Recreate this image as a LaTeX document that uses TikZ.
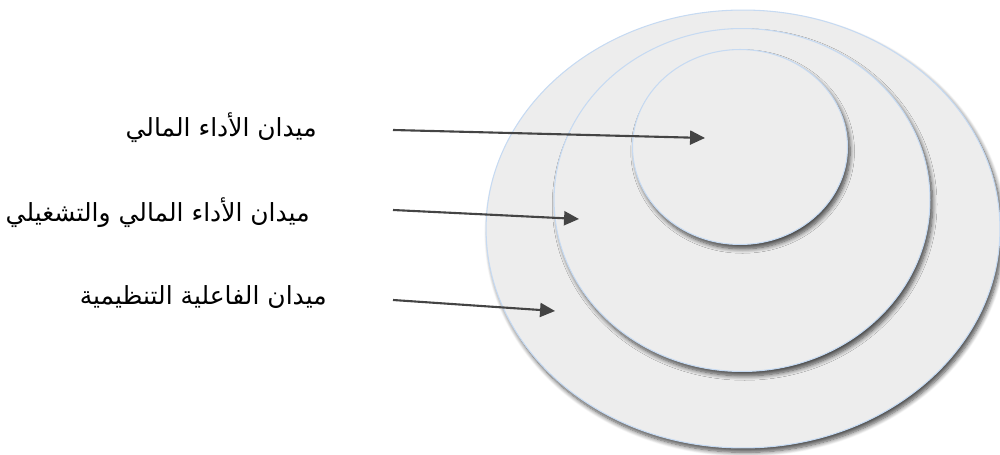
\documentclass[tikz,border=0pt]{standalone}
\usepackage{fontspec}
\TeXXeTstate=1
\newfontfamily\arabicfont[Script=Arabic]{DejaVu Sans}
\usetikzlibrary{shapes.geometric,shadows.blur,arrows.meta}
\definecolor{ringfill}{HTML}{EDEDED}
\definecolor{ringedge}{HTML}{C6DAF2}
\definecolor{arrowgray}{HTML}{444444}
\begin{document}
\begin{tikzpicture}[x=0.02cm,y=-0.02cm,
  ring/.style={ellipse, draw=ringedge, line width=0.6pt, fill=ringfill, inner sep=0pt,
    blur shadow={shadow xshift=1.5pt, shadow yshift=-2.5pt, shadow blur steps=8, shadow blur radius=2.5pt, shadow opacity=70}},
  lbl/.style={font=\arabicfont\fontsize{14.2}{17}\selectfont, anchor=east, inner sep=0pt},
  pointer/.style={draw=arrowgray, line width=1.2pt, -{Triangle[length=8.5pt,width=8pt]}}]
\useasboundingbox (0,0) rectangle (1000,455);
\node[ring, minimum width=10.28cm, minimum height=8.76cm] (outer) at (743,229) {};
\node[ring, minimum width=7.52cm, minimum height=6.86cm] (middle) at (742,200) {};
\node[ring, minimum width=4.3cm, minimum height=3.9cm] (inner) at (740,147) {};
\node[lbl] (t1) at (317,128) {\beginR ميدان الأداء المالي\endR};
\node[lbl] (t2) at (310,213) {\beginR ميدان الأداء المالي والتشغيلي\endR};
\node[lbl] (t3) at (327,297) {\beginR ميدان الفاعلية التنظيمية\endR};
\coordinate (s1) at (393,130);
\coordinate (e1) at (705,138);
\coordinate (s2) at (393,210);
\coordinate (e2) at (579,219);
\coordinate (s3) at (393,300);
\coordinate (e3) at (555,311);
\draw[pointer] (s1) -- (e1);
\draw[pointer] (s2) -- (e2);
\draw[pointer] (s3) -- (e3);
\end{tikzpicture}
\end{document}
